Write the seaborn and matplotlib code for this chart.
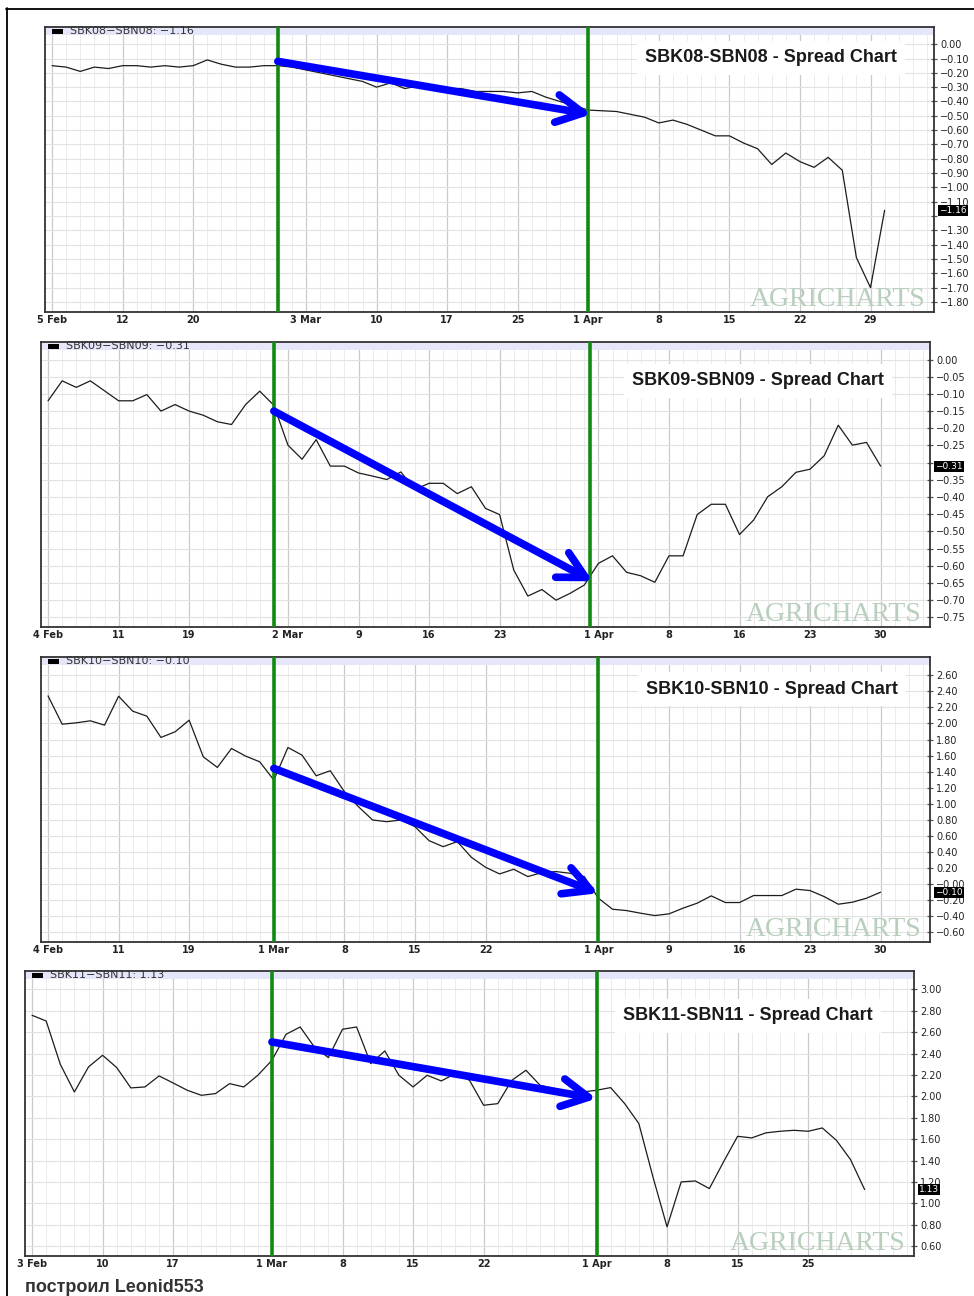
import numpy as np
import pandas as pd
import matplotlib
matplotlib.use("Agg")
import matplotlib.pyplot as plt
import seaborn as sns
from matplotlib.patches import Rectangle
from matplotlib.lines import Line2D

# ---------------- data (trading-day index -> spread value) ----------------
sbk08_values = [-0.15, -0.16, -0.19, -0.16, -0.17, -0.15, -0.15, -0.16, -0.15, -0.16,
                -0.15, -0.11, -0.14, -0.16, -0.16, -0.15, -0.15, -0.16, -0.18, -0.20,
                -0.22, -0.24, -0.26, -0.30, -0.27, -0.31, -0.29, -0.30, -0.31, -0.31,
                -0.33, -0.33, -0.33, -0.34, -0.33, -0.37, -0.40, -0.43, -0.46, -0.465,
                -0.47, -0.49, -0.51, -0.55, -0.53, -0.56, -0.60, -0.64, -0.64, -0.69,
                -0.73, -0.84, -0.76, -0.82, -0.86, -0.79, -0.88, -1.49, -1.70, -1.16]
sbk09_values = [-0.120, -0.062, -0.081, -0.062, -0.091, -0.120, -0.120, -0.102, -0.150, -0.131,
                -0.150, -0.162, -0.181, -0.189, -0.131, -0.092, -0.133, -0.249, -0.290, -0.233,
                -0.310, -0.310, -0.330, -0.339, -0.349, -0.327, -0.378, -0.360, -0.360, -0.390,
                -0.370, -0.433, -0.451, -0.612, -0.688, -0.669, -0.700, -0.680, -0.656, -0.593,
                -0.571, -0.619, -0.629, -0.648, -0.571, -0.571, -0.451, -0.421, -0.421, -0.509,
                -0.467, -0.399, -0.370, -0.328, -0.319, -0.280, -0.191, -0.249, -0.241, -0.310]
sbk10_values = [2.343, 1.991, 2.008, 2.033, 1.979, 2.339, 2.153, 2.091, 1.826, 1.896,
                2.041, 1.585, 1.453, 1.689, 1.594, 1.523, 1.296, 1.701, 1.606, 1.349,
                1.412, 1.151, 0.964, 0.799, 0.778, 0.799, 0.716, 0.542, 0.467, 0.530,
                0.335, 0.211, 0.128, 0.186, 0.095, 0.145, 0.157, 0.136, 0.095, -0.174,
                -0.311, -0.328, -0.361, -0.390, -0.369, -0.298, -0.236, -0.145, -0.228, -0.228,
                -0.141, -0.141, -0.141, -0.062, -0.079, -0.154, -0.249, -0.224, -0.174, -0.099]
sbk11_values = [2.757, 2.704, 2.300, 2.041, 2.275, 2.384, 2.269, 2.079, 2.088, 2.191,
                2.125, 2.057, 2.010, 2.026, 2.119, 2.088, 2.197, 2.337, 2.580, 2.648,
                2.462, 2.362, 2.627, 2.648, 2.306, 2.424, 2.197, 2.088, 2.197, 2.144,
                2.213, 2.150, 1.917, 1.932, 2.150, 2.244, 2.104, 2.073, 2.026, 2.041,
                2.057, 2.082, 1.932, 1.746, 1.248, 0.781, 1.201, 1.210, 1.139, 1.388,
                1.627, 1.612, 1.659, 1.674, 1.683, 1.674, 1.705, 1.590, 1.410, 1.130]

spread_names = ["SBK08-SBN08", "SBK09-SBN09", "SBK10-SBN10", "SBK11-SBN11"]
last_values = ["\u22121.16", "\u22120.31", "\u22120.10", "1.13"]

date_ticks_08 = [0, 5, 10, 18, 23, 28, 33, 38, 43, 48, 53, 58]
date_labels_08 = ["5 Feb", "12", "20", "3 Mar", "10", "17", "25", "1 Apr", "8", "15", "22", "29"]
date_ticks_09 = [0, 5, 10, 17, 22, 27, 32, 39, 44, 49, 54, 59]
date_labels_09 = ["4 Feb", "11", "19", "2 Mar", "9", "16", "23", "1 Apr", "8", "16", "23", "30"]
date_ticks_10 = [0, 5, 10, 16, 21, 26, 31, 39, 44, 49, 54, 59]
date_labels_10 = ["4 Feb", "11", "19", "1 Mar", "8", "15", "22", "1 Apr", "9", "16", "23", "30"]
date_ticks_11 = [0, 5, 10, 17, 22, 27, 32, 40, 45, 50, 55]
date_labels_11 = ["3 Feb", "10", "17", "1 Mar", "8", "15", "22", "1 Apr", "8", "15", "25"]

green_marks_08 = [16, 38]
green_marks_09 = [16, 38.4]
green_marks_10 = [16, 39]
green_marks_11 = [17, 40]

trend_08 = [(16, -0.12), (38.2, -0.49)]
trend_09 = [(16, -0.150), (38.6, -0.645)]
trend_10 = [(16, 1.441), (39, -0.112)]
trend_11 = [(17, 2.508), (40, 1.979)]

# ---------------- style ----------------
sns.set_theme(style="white")
plt.rcParams["font.family"] = ["DejaVu Sans"]
plt.rcParams["axes.unicode_minus"] = True

W, H = 974, 1296
fig = plt.figure(figsize=(W / 100, H / 100), dpi=100)
fig.patch.set_facecolor("white")


def fmt(v):
    s = f"{abs(v):.2f}"
    return ("\u2212" + s) if v < 0 else s


panels = [
    dict(rect=(45, 27, 934, 312), ylim=(-1.87, 0.12), yticks=np.round(np.arange(0, -1.85, -0.1), 2),
         hide=[-1.2], vals=sbk08_values, xt=date_ticks_08, xl=date_labels_08,
         green=green_marks_08, trend=trend_08, title_c=(771, 58), last=-1.16),
    dict(rect=(41, 342, 930, 627), ylim=(-0.778, 0.051), yticks=np.round(np.arange(0, -0.80, -0.05), 2),
         hide=[-0.3], vals=sbk09_values, xt=date_ticks_09, xl=date_labels_09,
         green=green_marks_09, trend=trend_09, title_c=(758, 381), last=-0.31),
    dict(rect=(41, 657, 930, 942), ylim=(-0.719, 2.827), yticks=np.round(np.arange(2.6, -0.7, -0.2), 2),
         hide=[], vals=sbk10_values, xt=date_ticks_10, xl=date_labels_10,
         green=green_marks_10, trend=trend_10, title_c=(772, 689), last=-0.10),
    dict(rect=(25, 971, 914, 1256), ylim=(0.509, 3.171), yticks=np.round(np.arange(3.0, 0.5, -0.2), 2),
         hide=[], vals=sbk11_values, xt=date_ticks_11, xl=date_labels_11,
         green=green_marks_11, trend=trend_11, title_c=(748, 1016), last=1.13),
]

for i, p in enumerate(panels):
    l, t, r, b = p["rect"]
    ax = fig.add_axes([l / W, 1 - b / H, (r - l) / W, (b - t) / H])
    ax.set_facecolor("white")

    df = pd.DataFrame({"day": np.arange(len(p["vals"])), "spread": p["vals"]})
    sns.lineplot(data=df, x="day", y="spread", ax=ax, color="#1c1c1c", linewidth=0.9, zorder=3)
    ax.set_xlabel("")
    ax.set_ylabel("")
    ax.set_xlim(-0.5, 62.5)
    ax.set_ylim(*p["ylim"])

    # grid
    ax.set_axisbelow(True)
    ax.set_xticks(p["xt"])
    ax.set_xticklabels(p["xl"], fontsize=7, fontweight="bold", color="#222222")
    ax.set_xticks(np.arange(0, 63), minor=True)
    ax.grid(which="minor", axis="x", color="#e8e8e8", linewidth=0.6)
    ax.grid(which="major", axis="x", color="#cacaca", linewidth=0.9)
    ax.tick_params(axis="x", which="both", length=0, pad=2)

    yt = p["yticks"]
    ylabels = ["" if any(abs(v - h) < 1e-6 for h in p["hide"]) else fmt(v) for v in yt]
    if i == 2:
        ylabels = ["\u22120.00" if abs(v) < 1e-6 else lab for v, lab in zip(yt, ylabels)]
    ax.yaxis.tick_right()
    ax.set_yticks(yt)
    ax.set_yticklabels(ylabels)
    ax.grid(which="major", axis="y", color="#e2e2e2", linewidth=0.8)
    ax.tick_params(axis="y", direction="inout", length=5, width=0.9, color="#555555",
                   labelsize=7, pad=2, labelcolor="#222222")

    for s in ax.spines.values():
        s.set_visible(True)
        s.set_color("#333333")
        s.set_linewidth(1.3)

    # lavender band at top
    ax.add_patch(Rectangle((0, 1 - 8 / (b - t)), 1, 8 / (b - t), transform=ax.transAxes,
                           facecolor="#e6e6fb", edgecolor="none", zorder=1))

    # legend marker + text
    ax.add_patch(Rectangle((7 / (r - l), 1 - 7 / (b - t)), 11 / (r - l), 5 / (b - t),
                           transform=ax.transAxes, facecolor="black", edgecolor="none", zorder=6))
    ax.annotate(f"{spread_names[i].replace('-', chr(0x2212))}: {last_values[i]}",
                xy=(0, 1), xycoords="axes fraction", xytext=(25, -4.5), textcoords="offset pixels",
                ha="left", va="center", fontsize=8, color="#333333", zorder=6)

    # watermark
    ax.annotate("AGRICHARTS", xy=(1, 0), xycoords="axes fraction", xytext=(-9, 6),
                textcoords="offset pixels", ha="right", va="baseline", fontsize=20,
                family="Liberation Serif", color="#b9cfbd", zorder=2)

    # green vertical markers
    for g in p["green"]:
        ax.axvline(g, color="#118a11", linewidth=2.6, zorder=4)

    # blue trend arrow
    (x1, y1), (x2, y2) = p["trend"]
    ax.annotate("", xy=(x2, y2), xytext=(x1, y1),
                arrowprops=dict(arrowstyle="->,head_length=0.95,head_width=0.5", color="#0000ff",
                                lw=5.5, mutation_scale=20, shrinkA=0, shrinkB=0,
                                joinstyle="round", capstyle="round"), zorder=7)

    # title box
    cx, cy = p["title_c"]
    fig.text(cx / W, 1 - cy / H, f"{spread_names[i]} - Spread Chart", ha="center", va="center",
             fontsize=13, fontweight="bold", family="Liberation Sans", color="#1a1a1a",
             bbox=dict(boxstyle="square,pad=0.45", facecolor="white", edgecolor="none"), zorder=5)

    # last value box on the right axis
    ax.annotate(last_values[i], xy=(1, p["last"]), xycoords=("axes fraction", "data"),
                xytext=(5, 0), textcoords="offset pixels", ha="left", va="center",
                fontsize=6.5, color="white", annotation_clip=False, zorder=10,
                bbox=dict(boxstyle="square,pad=0.1", facecolor="black", edgecolor="none"))

# outer frame
fig.add_artist(Line2D([6.5 / W, 6.5 / W], [1 - 8 / H, 0], color="black", linewidth=1.3,
                      transform=fig.transFigure))
fig.add_artist(Line2D([6 / W, 1], [1 - 8.5 / H, 1 - 8.5 / H], color="black", linewidth=1.3,
                      transform=fig.transFigure))

fig.text(25 / W, 1 - 1287 / H, "построил Leonid553", ha="left", va="center", fontsize=13,
         fontweight="bold", family="Liberation Sans", color="#333333")

fig.savefig("out.png", dpi=100, facecolor="white")
